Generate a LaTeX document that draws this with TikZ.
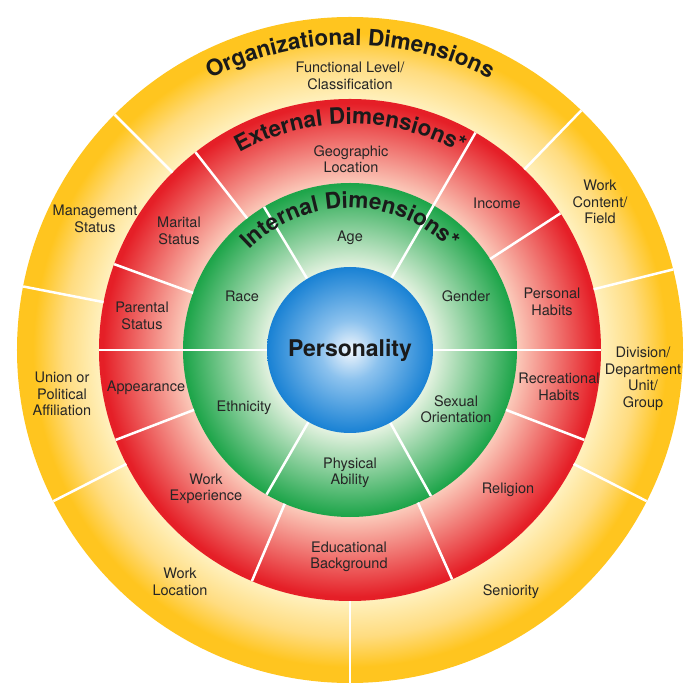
\documentclass[tikz,border=0pt]{standalone}
\usepackage{fontspec}
\setmainfont{TeX Gyre Heros}
\usetikzlibrary{decorations.text}
\definecolor{ysat}{HTML}{FFC51F}
\definecolor{ymid}{HTML}{FFDC80}
\definecolor{ypale}{HTML}{FFF0BC}
\definecolor{rsat}{HTML}{E51F27}
\definecolor{rpale}{HTML}{FBCABA}
\definecolor{gsat}{HTML}{1EA54A}
\definecolor{gpale}{HTML}{E4F2E0}
\definecolor{bsat}{HTML}{1A82D4}
\definecolor{bmid}{HTML}{8CC2EE}
\definecolor{bpale}{HTML}{F2F7FD}
\definecolor{labelcol}{HTML}{262626}
\definecolor{titlecol}{HTML}{1A1A1A}
\pgfdeclareradialshading{yring}{\pgfpoint{0bp}{0bp}}{color(0bp)=(ypale); color(18.9bp)=(ypale); color(21.5bp)=(ymid); color(23.8bp)=(ysat); color(50bp)=(ysat)}
\pgfdeclareradialshading{rring}{\pgfpoint{0bp}{0bp}}{color(0bp)=(rpale); color(16.6bp)=(rpale); color(24.6bp)=(rsat); color(50bp)=(rsat)}
\pgfdeclareradialshading{gring}{\pgfpoint{0bp}{0bp}}{color(0bp)=(gpale); color(12.4bp)=(gpale); color(24.8bp)=(gsat); color(50bp)=(gsat)}
\pgfdeclareradialshading{bball}{\pgfpoint{0bp}{0bp}}{color(0bp)=(bpale); color(9bp)=(bmid); color(24.8bp)=(bsat); color(50bp)=(bsat)}
\newcommand\titlefmt{\bfseries\fontsize{22.5}{27}\selectfont\color{titlecol}}
\tikzset{
  lbl/.style={align=center, text=labelcol, font=\fontsize{14.5}{16.5}\selectfont, inner sep=0pt},
  divider/.style={white, line width=2.5pt},
  curvedtitle/.style={decorate, decoration={text along path, text align=center, text={|\titlefmt|#1}}}
}
\begin{document}
\begin{tikzpicture}[x=1pt,y=1pt]
\useasboundingbox (-350,-350) rectangle (350,350);
% rings
\shade[shading=yring] (0,0) circle (333);
\shade[shading=rring] (0,0) circle (251);
\shade[shading=gring] (0,0) circle (167);
% dividers: organizational ring
\foreach \a in {14,46,135,169,207,270,333}
  \draw[divider] (\a:251) -- (\a:333);
% dividers: external ring
\foreach \a in {0,33,60,128,160,180,201,247,294,339}
  \draw[divider] (\a:167) -- (\a:251);
% dividers: internal ring
\foreach \a in {0,60,121,180,240,299}
  \draw[divider] (\a:83) -- (\a:167);
% centre
\shade[shading=bball] (0,0) circle (83);
\node[font=\bfseries\fontsize{23}{27}\selectfont, text=titlecol, inner sep=0pt] (pers) at (0,0) {Personality};
% curved titles
\path[curvedtitle={Organizational Dimensions}] (180:305) arc[start angle=180, end angle=0, radius=305];
\path[curvedtitle={External Dimensions*}] (180:226) arc[start angle=180, end angle=0, radius=226];
\path[curvedtitle={Internal Dimensions*}] (180:142) arc[start angle=180, end angle=0, radius=142];
% organizational labels
\node[lbl] (func) at (0,274) {Functional Level/\\Classification};
\node[lbl] (mgmt) at (-255,131) {Management\\Status};
\node[lbl] (union) at (-288,-44) {Union or\\Political\\Affiliation};
\node[lbl] (wloc) at (-170,-232) {Work\\Location};
\node[lbl] (senior) at (161,-242) {Seniority};
\node[lbl] (div) at (293,-29) {Division/\\Department\\Unit/\\Group};
\node[lbl] (wcont) at (250,148) {Work\\Content/\\Field};
% external labels
\node[lbl] (geo) at (1,191) {Geographic\\Location};
\node[lbl] (marital) at (-171,119) {Marital\\Status};
\node[lbl] (parental) at (-208,34) {Parental\\Status};
\node[lbl] (appear) at (-204,-38) {Appearance};
\node[lbl] (wexp) at (-144,-139) {Work\\Experience};
\node[lbl] (edu) at (-1,-207) {Educational\\Background};
\node[lbl] (relig) at (158,-140) {Religion};
\node[lbl] (recr) at (209,-37) {Recreational\\Habits};
\node[lbl] (phabits) at (202,48) {Personal\\Habits};
\node[lbl] (income) at (147,147) {Income};
% internal labels
\node[lbl] (age) at (0,112) {Age};
\node[lbl] (race) at (-108,54) {Race};
\node[lbl] (gender) at (116,54) {Gender};
\node[lbl] (ethn) at (-106,-58) {Ethnicity};
\node[lbl] (phys) at (0,-123) {Physical\\Ability};
\node[lbl] (sexual) at (106,-59) {Sexual\\Orientation};
\end{tikzpicture}
\end{document}
